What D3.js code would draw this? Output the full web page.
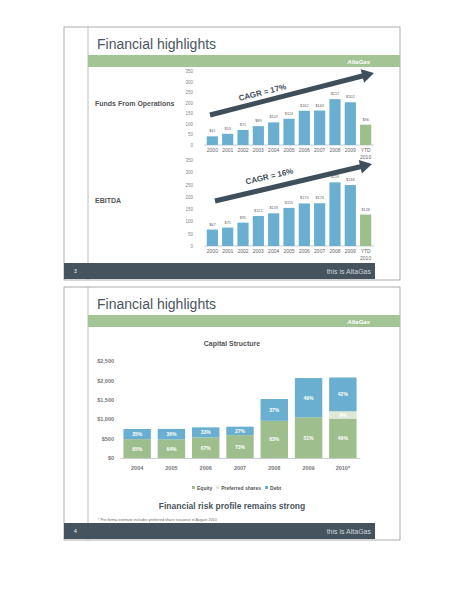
<!DOCTYPE html><html><head><meta charset="utf-8">
<script src="https://cdn.jsdelivr.net/npm/d3@7"></script>
<style>body{margin:0;background:#fff}text{font-family:Arial,"Liberation Sans",sans-serif}</style></head><body>
<svg id="c" width="464" height="600"></svg>
<script>
const years=["2000","2001","2002","2003","2004","2005","2006","2007","2008","2009","YTD 2010"];
const ffo=[41,53,71,89,107,124,162,163,217,202,96];
const ebitda=[67,75,95,122,133,155,173,174,259,248,128];
const capYears=["2004","2005","2006","2007","2008","2009","2010*"];
const capTotal=[747,750,790,807,1520,2060,2075];
const equityPct=[65,64,67,73,63,51,49];
const prefPct=[0,0,0,0,0,0,9];
const debtPct=[35,36,33,27,37,49,42];
const svg=d3.select("#c");
const blue="#6aafcf",green="#9fbe8e",pref="#dde8d6",dark="#44535e";

function slide(y0,y1,num){
  svg.append("rect").attr("x",64).attr("y",y0).attr("width",336).attr("height",y1-y0).attr("fill","#fff").attr("stroke","#999").attr("stroke-width",0.8);
  svg.append("line").attr("x1",88).attr("x2",88).attr("y1",y0).attr("y2",y1).attr("stroke","#aaa").attr("stroke-width",0.8);
  svg.append("text").attr("x",97).attr("y",y0+22).attr("font-size",14).attr("fill","#4a5560").text("Financial highlights");
  svg.append("rect").attr("x",88).attr("y",y0+28).attr("width",312).attr("height",12).attr("fill","#a3c495");
  svg.append("text").attr("x",370).attr("y",y0+37).attr("font-size",6).attr("font-style","italic").attr("font-weight","bold").attr("fill","#fff").attr("text-anchor","end").text("AltaGas");
  svg.append("rect").attr("x",64).attr("y",y1-17).attr("width",311).attr("height",16).attr("fill",dark);
  svg.append("text").attr("x",74).attr("y",y1-7).attr("font-size",5).attr("fill","#fff").text(num);
  svg.append("text").attr("x",371).attr("y",y1-6).attr("font-size",7).attr("fill","#cfd6da").attr("text-anchor","end").text("this is AltaGas");
}
slide(27,280,"3");
slide(287,540,"4");

const x=d3.scaleBand().domain(years).range([206,372]).paddingInner(0.27).paddingOuter(0.05);
function barChart(data,y0,yTop,label,labelY,cagr,arrow){
  const y=d3.scaleLinear().domain([0,350]).range([y0,yTop]);
  const ax=svg.append("g").attr("transform","translate(196,0)").call(d3.axisLeft(y).tickValues(d3.range(0,351,50)).tickSize(0));
  ax.select(".domain").remove();
  ax.selectAll("text").attr("font-size",4.5).attr("fill","#888");
  svg.append("line").attr("x1",204).attr("x2",374).attr("y1",y0).attr("y2",y0).attr("stroke","#999").attr("stroke-width",0.5);
  svg.selectAll(null).data(data).enter().append("rect").attr("x",(d,i)=>x(years[i])).attr("width",x.bandwidth())
    .attr("y",d=>y(d)).attr("height",d=>y0-y(d)).attr("fill",(d,i)=>i==10?green:blue);
  svg.selectAll(null).data(data).enter().append("text").attr("x",(d,i)=>x(years[i])+x.bandwidth()/2).attr("y",d=>y(d)-4)
    .attr("text-anchor","middle").attr("font-size",3.8).attr("fill","#666").text(d=>"$"+d);
  years.forEach(yr=>{const p=yr.split(" ");p.forEach((s,k)=>svg.append("text").attr("x",x(yr)+x.bandwidth()/2).attr("y",y0+7+k*7)
    .attr("text-anchor","middle").attr("font-size",5).attr("fill","#666").text(s));});
  svg.append("text").attr("x",95).attr("y",labelY).attr("font-size",7).attr("font-weight","bold").attr("fill","#555").text(label);
  const [x1,y1,x2,y2]=arrow;const ang=Math.atan2(y2-y1,x2-x1);
  const g=svg.append("g").attr("transform",`translate(${x1},${y1}) rotate(${ang*180/Math.PI})`);
  const L=Math.hypot(x2-x1,y2-y1);
  g.append("path").attr("d",`M0,-2.5L${L-12},-2.5L${L-12},-7L${L},0L${L-12},7L${L-12},2.5L0,2.5Z`).attr("fill","#3e4f5b");
  svg.append("text").attr("transform",`translate(${cagr[0]},${cagr[1]}) rotate(${ang*180/Math.PI})`).attr("text-anchor","middle")
    .attr("font-size",8).attr("font-weight","bold").attr("fill","#3e4f5b").text(cagr[2]);
}
barChart(ffo,145,71,"Funds From Operations",106,[263,95,"CAGR = 17%"],[210,115,374,73]);
barChart(ebitda,246,160,"EBITDA",203,[270,179,"CAGR = 16%"],[215,201,372,164]);

// Capital structure
const xc=d3.scaleBand().domain(capYears).range([120,360]).paddingInner(0.2).paddingOuter(0.1);
const yc=d3.scaleLinear().domain([0,2500]).range([458,361]);
svg.append("text").attr("x",232).attr("y",346).attr("text-anchor","middle").attr("font-size",7).attr("font-weight","bold").attr("fill","#555").text("Capital Structure");
const ayc=svg.append("g").attr("transform","translate(117,0)").call(d3.axisLeft(yc).tickValues(d3.range(0,2501,500)).tickSize(0).tickFormat(d=>"$"+d3.format(",")(d)));
ayc.select(".domain").remove();ayc.selectAll("text").attr("font-size",5.5).attr("font-weight","bold").attr("fill","#777");
const axb=svg.append("g").attr("transform","translate(0,458)").call(d3.axisBottom(xc).tickSize(0));
axb.select(".domain").attr("stroke","#999").attr("stroke-width",0.5);
axb.selectAll("text").attr("font-size",5.5).attr("font-weight","bold").attr("fill","#777").attr("dy",9);
capYears.forEach((yr,i)=>{
  const segs=[[equityPct[i],green],[prefPct[i],pref],[debtPct[i],blue]];let acc=0;
  segs.forEach(([p,c],k)=>{
    const v0=capTotal[i]*acc/100,v1=capTotal[i]*(acc+p)/100;acc+=p;
    if(!p)return;
    svg.append("rect").attr("x",xc(yr)).attr("width",xc.bandwidth()).attr("y",yc(v1)).attr("height",yc(v0)-yc(v1)).attr("fill",c);
    svg.append("text").attr("x",xc(yr)+xc.bandwidth()/2).attr("y",(yc(v0)+yc(v1))/2+2).attr("text-anchor","middle")
      .attr("font-size",5).attr("font-weight","bold").attr("fill","#fff").text(p+"%");
  });
});
const leg=[["Equity",green],["Preferred shares",pref],["Debt",blue]];
let lx=192;leg.forEach(([t,c])=>{svg.append("rect").attr("x",lx).attr("y",486).attr("width",3).attr("height",3).attr("fill",c);
  const tx=svg.append("text").attr("x",lx+5).attr("y",489.5).attr("font-size",5).attr("font-weight","bold").attr("fill","#555").text(t);
  lx+=5+tx.node().getComputedTextLength()+4;});
svg.append("text").attr("x",232).attr("y",509).attr("text-anchor","middle").attr("font-size",8.5).attr("font-weight","bold").attr("fill","#4a5560").text("Financial risk profile remains strong");
svg.append("text").attr("x",98).attr("y",521).attr("font-size",3.8).attr("fill","#666").text("* Pro forma estimate includes preferred share issuance in August 2010");
</script></body></html>
